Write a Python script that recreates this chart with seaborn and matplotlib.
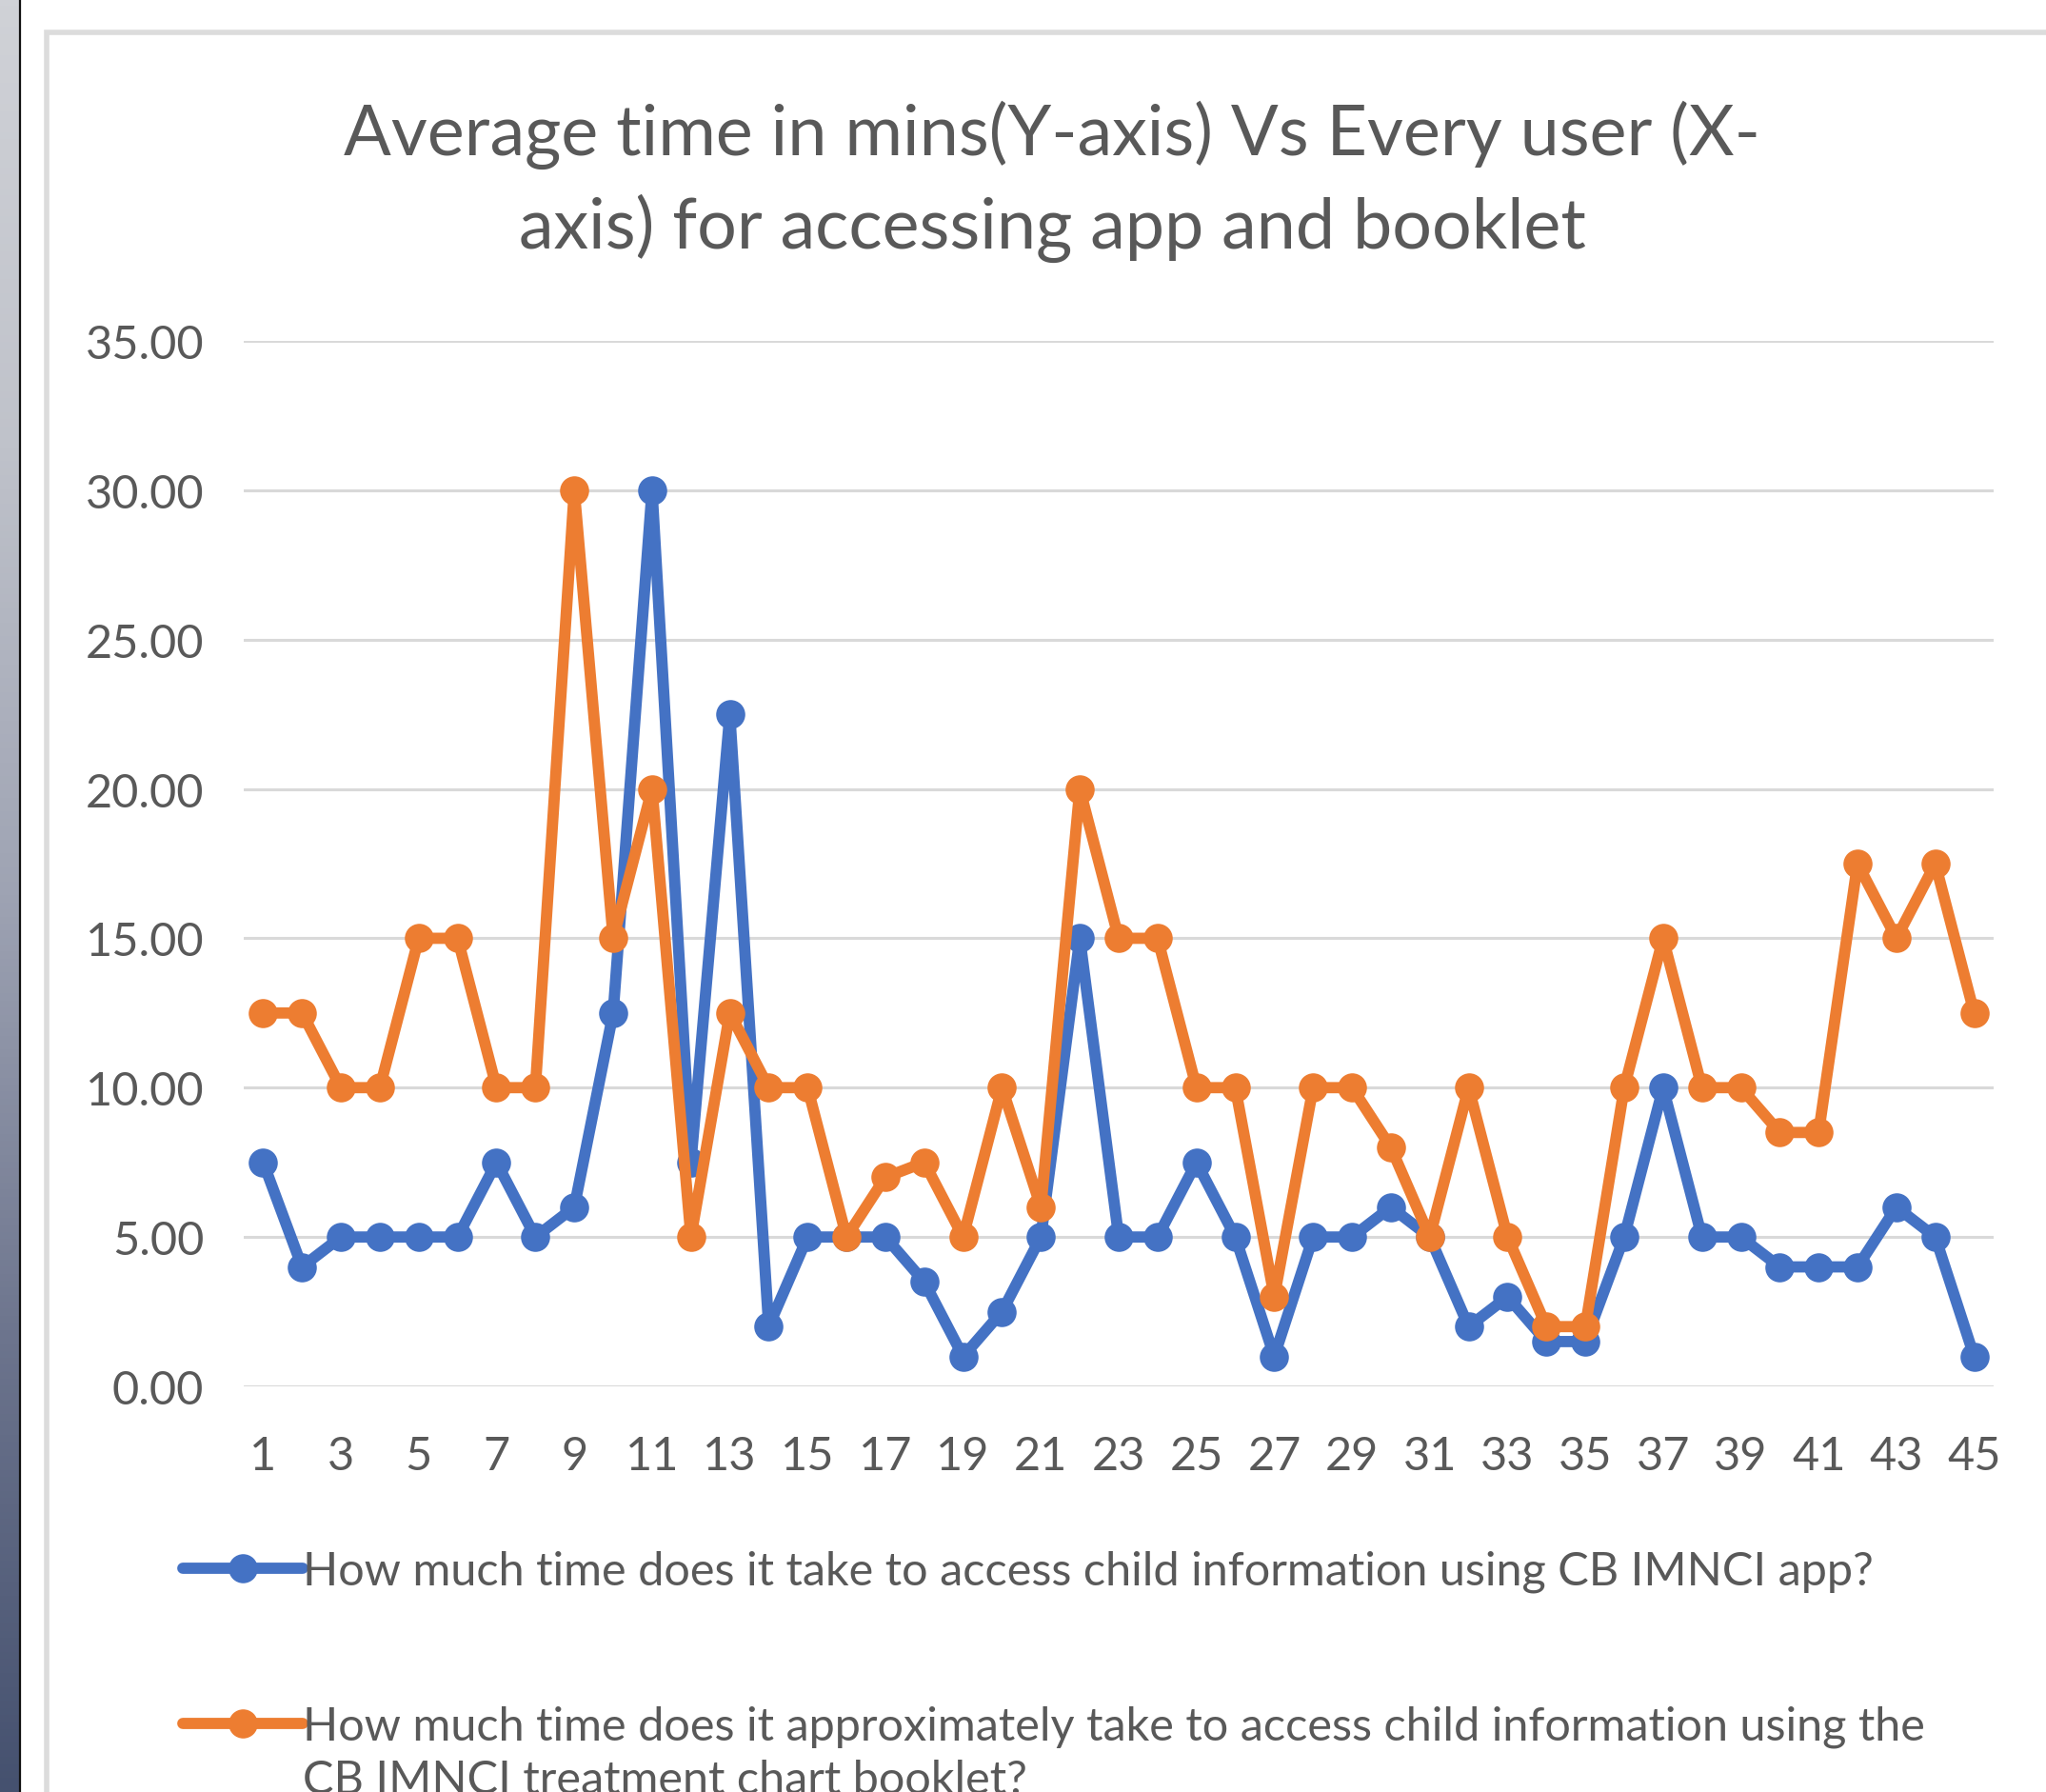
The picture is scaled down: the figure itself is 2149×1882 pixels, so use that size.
import numpy as np
import pandas as pd
import matplotlib
matplotlib.use("Agg")
import matplotlib.pyplot as plt
from matplotlib.colors import LinearSegmentedColormap
from matplotlib.patches import Rectangle
from matplotlib.lines import Line2D
import seaborn as sns

# data (minutes per user)
users = list(range(1, 46))
app_minutes = [7.5, 4, 5, 5, 5, 5, 7.5, 5, 6, 12.5,
               30, 7.5, 22.5, 2, 5, 5, 5, 3.5, 1, 2.5,
               5, 15, 5, 5, 7.5, 5, 1, 5, 5, 6,
               5, 2, 3, 1.5, 1.5, 5, 10, 5, 5, 4,
               4, 4, 6, 5, 1]
booklet_minutes = [12.5, 12.5, 10, 10, 15, 15, 10, 10, 30, 15,
                   20, 5, 12.5, 10, 10, 5, 7, 7.5, 5, 10,
                   6, 20, 15, 15, 10, 10, 3, 10, 10, 8,
                   5, 10, 5, 2, 2, 10, 15, 10, 10, 8.5,
                   8.5, 17.5, 15, 17.5, 12.5]
series_names = [
    "How much time does it take to access child information using CB IMNCI app?",
    "How much time does it approximately take to access child information using the",
]
booklet_name_rest = "CB IMNCI treatment chart booklet?"
series_colors = ["#4472C4", "#ED7D31"]
y_ticks = [0, 5, 10, 15, 20, 25, 30, 35]
x_ticks = list(range(1, 46, 2))
title = "Average time in mins(Y-axis) Vs Every user (X-\naxis) for accessing app and booklet"

df = pd.DataFrame({
    "user": users * 2,
    "minutes": app_minutes + booklet_minutes,
    "series": [series_names[0]] * len(users) + [series_names[1]] * len(users),
})

sns.set_style("white")
plt.rcParams["font.family"] = ["Lato", "DejaVu Sans"]

W, H = 2149, 1883
fig = plt.figure(figsize=(W / 100, H / 100), dpi=100)
fig.patch.set_facecolor("white")

# screenshot decorations: dark gradient strip on the left and chart frame
strip = fig.add_axes([0, 0, 20 / W, 1])
grad = LinearSegmentedColormap.from_list(
    "strip", ["#d0d2d7", "#bfc2ca", "#9ea3b3", "#6c748d", "#45516f"])
strip.imshow(np.linspace(0, 1, 256).reshape(-1, 1), aspect="auto", cmap=grad,
             extent=[0, 1, 0, 1], origin="upper")
strip.axis("off")
fig.add_artist(Line2D([21 / W, 21 / W], [0, 1], color="#111111", lw=1.6,
                      transform=fig.transFigure))
fig.add_artist(Rectangle((49 / W, -0.1), 1.2, 1 - 35 / H + 0.1,
                         transform=fig.transFigure, facecolor="none",
                         edgecolor="#dcdcdc", lw=4))

ax = fig.add_axes([256 / W, 1 - 1457 / H, (2094 - 256) / W, (1457 - 359) / H])
sns.lineplot(data=df, x="user", y="minutes", hue="series", palette=series_colors,
             marker="o", markersize=22, markeredgewidth=0, linewidth=8.5,
             ax=ax, legend=False)

ax.set_xlim(0.5, 45.5)
ax.set_ylim(0, 35)
ax.set_yticks(y_ticks)
ax.set_yticklabels([f"{v:.2f}" for v in y_ticks])
ax.set_xticks(x_ticks)
ax.set_xticklabels([str(v) for v in x_ticks])
ax.set_xlabel("")
ax.set_ylabel("")
ax.grid(axis="y", color="#d9d9d9", lw=2.2)
ax.grid(axis="x", visible=False)
ax.set_axisbelow(True)
for s in ax.spines.values():
    s.set_visible(False)
ax.tick_params(axis="y", length=0, pad=30, labelsize=35, labelcolor="#595959")
ax.tick_params(axis="x", length=0, pad=37, labelsize=35, labelcolor="#595959")
for ln in ax.lines:
    ln.set_clip_on(False)

fig.text(1105 / W, 1 - 191 / H, title, ha="center", va="center",
         fontsize=53, color="#595959", linespacing=1.44)

handles = [Line2D([], [], color=c, lw=8.5, marker="o", markersize=22,
                  markeredgewidth=0) for c in series_colors]
leg = fig.legend(handles, series_names, loc="upper left",
                 bbox_to_anchor=(192 / W, 1 - 1629 / H), frameon=False,
                 fontsize=35, labelcolor="#595959", handlelength=2.6,
                 handletextpad=0.0, labelspacing=2.43, borderpad=0,
                 borderaxespad=0)

# wrapped second line of the booklet label, placed under its first line
fig.canvas.draw()
bb = leg.get_texts()[1].get_window_extent()
fig.text(bb.x0 / W, (bb.y0 - 12) / H, booklet_name_rest, fontsize=35,
         color="#595959", va="top", ha="left")

fig.savefig("out.png", dpi=100)
